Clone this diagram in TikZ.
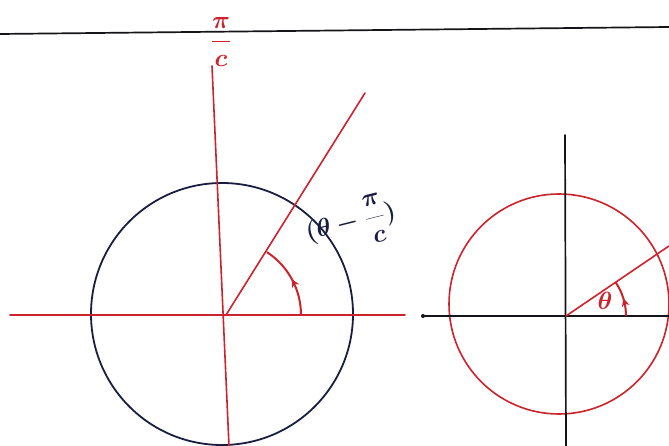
\documentclass[tikz,border=0pt]{standalone}
\usetikzlibrary{arrows.meta,decorations.markings,calc}
\definecolor{penred}{RGB}{205,35,45}
\definecolor{pennavy}{RGB}{25,30,65}
\definecolor{penblack}{RGB}{20,20,25}
\begin{document}
\begin{tikzpicture}[x=1pt,y=-1pt,
  redline/.style={draw=penred,line width=1.6pt,line cap=round},
  navyline/.style={draw=pennavy,line width=1.8pt},
  blackline/.style={draw=penblack,line width=1.7pt,line cap=round},
  anglearc/.style={draw=penred,line width=2pt,
    postaction={decorate},
    decoration={markings,mark=at position 0.5 with {\arrow{Stealth[length=8pt,width=8pt]}}}},
  redlabel/.style={text=penred,inner sep=0pt},
  navylabel/.style={text=pennavy,inner sep=0pt}]
\useasboundingbox (0,0) rectangle (669,446);
\fill[white] (0,0) rectangle (669,446);
% top rule
\coordinate (ruleL) at (0,34);
\coordinate (ruleR) at (669,27);
\draw[blackline] (ruleL) -- (ruleR);
% ---------- left figure ----------
\coordinate (O1) at (226,315);
\node[navyline,circle,minimum size=262pt,inner sep=0pt] (C1) at (222,314) {};
\coordinate (hL) at (10,315);
\coordinate (hR) at (405,315);
\coordinate (vT) at (212,66);
\coordinate (vB) at (229,446);
\coordinate (sT) at (365,93);
\draw[redline] (hL) -- (hR);
\draw[redline] (vT) -- (vB);
\draw[redline] (O1) -- (sT);
\draw[anglearc] ($(O1)+(75,0)$) arc[start angle=0,end angle=-57,radius=75];
\node[redlabel,font=\fontsize{44}{44}\selectfont\boldmath] (pic) at (221,42) {$\displaystyle\frac{\pi}{c}$};
\node[navylabel,font=\fontsize{26}{26}\selectfont\boldmath,rotate=14] (diff) at (351,224) {$\displaystyle\Bigl(\theta-\frac{\pi}{c}\Bigr)$};
% ---------- right figure ----------
\coordinate (O2) at (566,316);
\node[draw=penred,line width=1.6pt,circle,minimum size=220pt,inner sep=0pt] (C2) at (559,304) {};
\coordinate (v2T) at (565,135);
\coordinate (v2B) at (566,446);
\coordinate (h2L) at (423,316);
\coordinate (h2R) at (669,316);
\coordinate (s2T) at (669,246);
\draw[blackline] (v2T) -- (v2B);
\draw[blackline] (h2L) -- (h2R);
\fill[penblack] (h2L) circle[radius=2pt];
\draw[redline] (O2) -- (s2T);
\draw[anglearc] ($(O2)+(60,0)$) arc[start angle=0,end angle=-34,radius=60];
\node[redlabel,font=\fontsize{28}{28}\selectfont\boldmath] (th) at (605,301) {$\theta$};
\end{tikzpicture}
\end{document}
